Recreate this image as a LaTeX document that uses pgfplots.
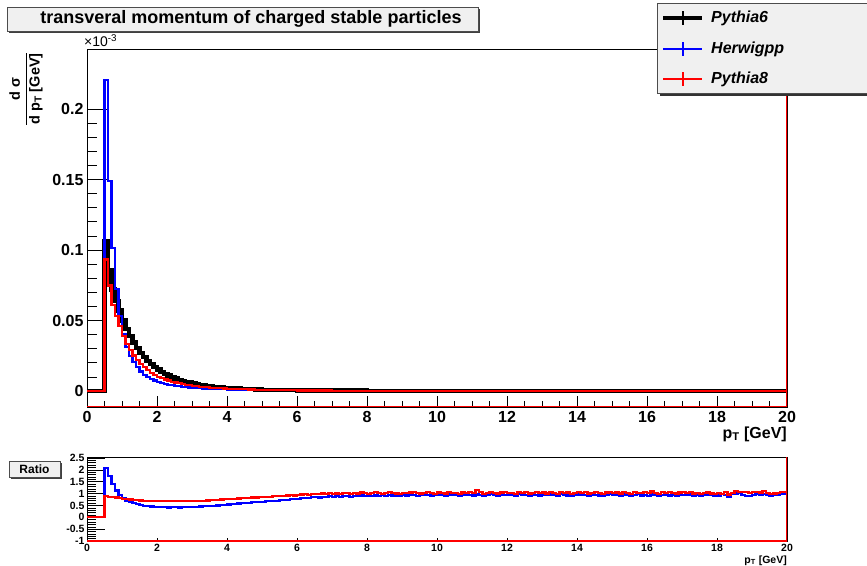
\documentclass[border=0pt]{standalone}
\usepackage{fontspec}
\setmainfont{Liberation Sans}
\usepackage{pgfplots}
\pgfplotsset{compat=1.18}
\usepackage{pgfplotstable}

\definecolor{boxgray}{RGB}{240,240,240}
\definecolor{rblue}{RGB}{0,0,255}
\definecolor{rred}{RGB}{255,0,0}

\pgfplotstableread{
x b h r
0 0 0 0
0.5 0.106 0.2205 0.0933
0.6 0.086 0.1488 0.0748
0.7 0.072 0.1015 0.0612
0.8 0.064 0.0723 0.0531
0.9 0.057 0.0530 0.0462
1.0 0.050 0.0400 0.0390
1.1 0.044 0.0312 0.0334
1.2 0.039 0.0250 0.0293
1.3 0.0345 0.0204 0.0252
1.4 0.0305 0.0168 0.0220
1.5 0.027 0.0138 0.0192
1.6 0.024 0.0115 0.0168
1.7 0.0213 0.0098 0.0147
1.8 0.019 0.0086 0.0129
1.9 0.017 0.0075 0.0116
2.0 0.0152 0.0065 0.0102
2.1 0.0136 0.0057 0.0091
2.2 0.0122 0.0051 0.0082
2.3 0.0110 0.0045 0.0074
2.4 0.0099 0.0042 0.0066
2.5 0.0089 0.0037 0.0060
2.6 0.0080 0.0033 0.0054
2.7 0.0072 0.0030 0.0048
2.8 0.0065 0.0027 0.0044
2.9 0.0059 0.0025 0.0040
3.0 0.0053 0.0023 0.0036
3.1 0.0048 0.0021 0.0033
3.2 0.0044 0.0020 0.0030
3.3 0.0040 0.0018 0.0028
3.4 0.0036 0.0017 0.0026
3.5 0.0033 0.0016 0.0024
3.6 0.0030 0.0015 0.0022
3.7 0.0027 0.0014 0.0020
3.8 0.0025 0.0013 0.0019
3.9 0.0023 0.0012 0.0017
4.0 0.0021 0.0011 0.0016
4.2 0.00175 0.00098 0.00137
4.4 0.00148 0.00087 0.00118
4.6 0.00125 0.00076 0.00103
4.8 0.00106 0.00068 0.00088
5.0 0.0009 0.00059 0.00077
5.5 0.0006 0.00043 0.00054
6.0 0.00042 0.00033 0.0004
7.0 0.00025 0.00022 0.00025
8.0 0.00015 0.00014 0.00015
10.0 0.00006 0.00006 0.00006
12.0 0.00002 0.00002 0.00002
20.0 0.00002 0.00002 0.00002
}\maintab

\pgfplotstableread{
x rb rr
0 0 0
0.5 2.08 0.88
0.6 1.73 0.87
0.7 1.41 0.85
0.8 1.13 0.83
0.9 0.93 0.81
1.0 0.80 0.78
1.1 0.71 0.76
1.2 0.64 0.75
1.3 0.59 0.73
1.4 0.55 0.72
1.5 0.51 0.71
1.6 0.48 0.70
1.7 0.46 0.69
1.8 0.45 0.68
1.9 0.44 0.68
2.0 0.43 0.67
2.1 0.42 0.67
2.2 0.42 0.67
2.3 0.41 0.67
2.4 0.42 0.67
2.5 0.42 0.67
2.6 0.41 0.68
2.7 0.42 0.67
2.8 0.42 0.68
2.9 0.43 0.68
3.0 0.43 0.68
3.1 0.44 0.69
3.2 0.45 0.69
3.3 0.46 0.70
3.4 0.47 0.71
3.5 0.48 0.72
3.6 0.49 0.73
3.7 0.50 0.74
3.8 0.52 0.75
3.9 0.53 0.76
4.0 0.54 0.77
4.1 0.55 0.78
4.2 0.56 0.78
4.3 0.58 0.79
4.4 0.59 0.80
4.5 0.60 0.81
4.6 0.61 0.82
4.7 0.63 0.83
4.8 0.64 0.83
4.9 0.65 0.84
5.0 0.66 0.85
5.1 0.67 0.86
5.2 0.68 0.87
5.3 0.70 0.88
5.4 0.69 0.88
5.5 0.72 0.90
5.6 0.73 0.90
5.7 0.74 0.92
5.8 0.76 0.93
5.9 0.77 0.92
6.0 0.78 0.95
6.1 0.80 0.96
6.2 0.82 0.97
6.3 0.81 0.95
6.4 0.85 0.99
6.5 0.84 0.98
6.6 0.83 0.97
6.7 0.86 1.00
6.8 0.85 0.98
6.9 0.88 1.01
7.0 0.86 0.99
7.1 0.88 1.00
7.2 0.87 0.98
7.3 0.90 1.03
7.4 0.89 1.01
7.5 0.87 0.99
7.6 0.91 1.02
7.7 0.90 1.00
7.8 0.92 1.04
7.9 0.89 1.01
8.0 0.90 0.99
8.1 0.91 1.02
8.2 0.92 1.05
8.3 0.90 1.01
8.4 0.93 0.99
8.5 0.91 1.03
8.6 0.94 1.06
8.7 0.92 1.02
8.8 0.90 1.00
8.9 0.91 0.98
9.0 0.93 1.03
9.1 0.92 1.01
9.2 0.95 1.04
9.3 0.94 1.07
9.4 0.91 1.03
9.5 0.93 1.00
9.6 0.96 1.02
9.7 0.94 1.05
9.8 0.92 1.01
9.9 0.95 0.99
10.0 0.93 1.04
10.1 0.94 1.02
10.2 0.92 1.00
10.3 0.96 1.05
10.4 0.93 1.03
10.5 0.95 1.01
10.6 0.91 0.98
10.7 0.94 1.04
10.8 0.96 1.02
10.9 0.93 1.06
11.0 0.92 1.01
11.1 0.96 1.15
11.2 0.93 1.05
11.3 0.91 0.99
11.4 0.95 1.03
11.5 0.97 1.07
11.6 0.94 1.02
11.7 0.92 1.00
11.8 0.96 1.04
11.9 0.95 1.06
12.0 0.93 1.01
12.1 0.94 1.03
12.2 0.92 0.99
12.3 0.97 1.06
12.4 0.95 1.02
12.5 0.93 1.05
12.6 0.90 1.00
12.7 0.96 1.03
12.8 0.94 1.07
12.9 0.92 1.01
13.0 0.95 1.04
13.1 0.93 1.00
13.2 0.96 1.05
13.3 0.94 1.03
13.4 0.90 0.98
13.5 0.97 1.06
13.6 0.95 1.02
13.7 0.92 1.04
13.8 0.91 0.99
13.9 0.94 1.03
14.0 0.96 1.08
14.1 0.95 1.02
14.2 0.93 1.05
14.3 0.91 1.00
14.4 0.96 1.03
14.5 0.94 1.07
14.6 0.92 1.01
14.7 0.90 0.99
14.8 0.95 1.04
14.9 0.97 1.06
15.0 0.93 1.02
15.1 0.94 1.04
15.2 0.92 1.00
15.3 0.96 1.08
15.4 0.93 1.02
15.5 0.90 0.99
15.6 0.95 1.05
15.7 0.97 1.03
15.8 0.92 1.01
15.9 0.94 1.06
16.0 0.91 1.02
16.1 0.96 1.09
16.2 0.94 1.03
16.3 0.89 0.99
16.4 0.93 1.05
16.5 0.95 1.01
16.6 0.92 1.07
16.7 0.96 1.03
16.8 0.91 1.00
16.9 0.94 1.04
17.0 0.95 1.08
17.1 0.93 1.02
17.2 0.96 1.05
17.3 0.92 1.00
17.4 0.95 1.03
17.5 0.91 0.98
17.6 0.94 1.01
17.7 0.96 1.04
17.8 0.93 1.00
17.9 0.90 0.97
18.0 0.92 1.02
18.1 0.98 0.99
18.2 0.93 1.06
18.3 0.87 0.96
18.4 0.97 1.02
18.5 1.00 1.12
18.6 1.02 1.08
18.7 0.94 1.08
18.8 0.91 1.06
18.9 0.88 1.03
19.0 0.93 1.05
19.1 0.97 1.07
19.2 0.95 1.04
19.3 0.99 1.10
19.4 0.94 1.02
19.5 0.92 0.99
19.6 0.93 1.00
19.7 0.96 1.03
19.8 0.98 1.05
19.9 1.00 1.06
20.0 1.00 1.06
}\ratiotab

\begin{document}
\begin{tikzpicture}[x=1pt,y=1pt]
\useasboundingbox (0pt,0pt) rectangle (867pt,565pt);

% ---------------- main panel ----------------
\begin{axis}[
  at={(87pt,158pt)}, anchor=south west,
  scale only axis, width=700pt, height=358pt,
  xmin=0, xmax=20, ymin=-0.01135, ymax=0.24255,
  axis line style={line width=0.8pt},
  xtick={0,2,...,20}, minor x tick num=3,
  ytick={0,0.05,0.1,0.15,0.2}, minor y tick num=4,
  tick align=inside, xtick pos=bottom, ytick pos=left,
  xtick style={/pgfplots/major tick length=11pt,/pgfplots/minor tick length=5.5pt,line width=0.6pt,black},
  ytick style={/pgfplots/major tick length=20pt,/pgfplots/minor tick length=10pt,line width=0.6pt,black},
  scaled y ticks=false,
  yticklabel style={/pgf/number format/fixed,/pgf/number format/precision=2},
  /pgf/number format/assume math mode=true,
  ticklabel style={font=\fontsize{16}{16}\selectfont\bfseries},
  xticklabel style={yshift=-1pt},
  clip=true,
]
\addplot[const plot, black, line width=4.4pt] table[x=x,y=b]{\maintab};
\addplot[const plot, rblue, line width=2.2pt] table[x=x,y=h]{\maintab};
\addplot[const plot, rred, line width=2.2pt] table[x=x,y=r]{\maintab};
\draw[rred, line width=2pt] (rel axis cs:0,0) -- (rel axis cs:1,0) -- (rel axis cs:1,1);
\end{axis}

% ---------------- ratio panel ----------------
\begin{axis}[
  at={(87pt,24pt)}, anchor=south west,
  scale only axis, width=700pt, height=84pt,
  xmin=0, xmax=20, ymin=-1, ymax=2.54,
  axis line style={line width=0.8pt},
  xtick={0,2,...,20}, minor x tick num=3,
  ytick={-1,-0.5,...,2.5}, minor y tick num=4,
  tick align=inside, xtick pos=bottom, ytick pos=left,
  xtick style={/pgfplots/major tick length=3pt,/pgfplots/minor tick length=1.5pt,line width=0.6pt,black},
  ytick style={/pgfplots/major tick length=18pt,/pgfplots/minor tick length=9pt,line width=0.5pt,black},
  scaled y ticks=false,
  /pgf/number format/assume math mode=true,
  ticklabel style={font=\fontsize{10.5}{10.5}\selectfont\bfseries},
  yticklabel style={xshift=1pt},
  clip=true,
]
\addplot[const plot, rblue, line width=2.2pt] table[x=x,y=rb]{\ratiotab};
\addplot[const plot, rred, line width=2.2pt] table[x=x,y=rr]{\ratiotab};
\draw[rred, line width=2pt] (rel axis cs:0,0) -- (rel axis cs:1,0) -- (rel axis cs:1,1);
\end{axis}

% ---------------- title ----------------
\fill[black!75] (9pt,532pt) rectangle (480pt,556pt);
\draw[fill=boxgray, draw=black!70, line width=0.6pt] (7pt,534pt) rectangle (478pt,558pt);
\node[font=\fontsize{18}{18}\selectfont\bfseries] at (251pt,546pt) {transveral momentum of charged stable particles};

% ---------------- y label & exponent ----------------
\node[rotate=90, font=\fontsize{14.5}{14.5}\selectfont\bfseries] at (26pt,476pt)
  {$\displaystyle\frac{\mbox{\bfseries d σ}}{\mbox{\bfseries d p\textsubscript{T} [GeV]}}$};
\node[anchor=west, font=\fontsize{14}{14}\selectfont, inner sep=0pt] at (84pt,524pt) {×10\textsuperscript{-3}};

% ---------------- x labels ----------------
\node[anchor=east, font=\fontsize{16}{16}\selectfont\bfseries, inner sep=0pt] at (787pt,131pt) {p\textsubscript{T} [GeV]};
\node[anchor=east, font=\fontsize{10.5}{10.5}\selectfont\bfseries, inner sep=0pt] at (787pt,4.5pt) {p\textsubscript{T} [GeV]};

% ---------------- Ratio box ----------------
\fill[black!75] (11pt,86pt) rectangle (62pt,102pt);
\draw[fill=boxgray, draw=black!70, line width=0.6pt] (9pt,88pt) rectangle (60pt,104pt);
\node[font=\fontsize{12}{12}\selectfont\bfseries] at (34.5pt,96pt) {Ratio};

% ---------------- legend ----------------
\fill[black!80] (660pt,469pt) rectangle (870pt,559pt);
\draw[fill=boxgray, draw=black!70, line width=0.6pt] (657pt,472pt) rectangle (870pt,562pt);
\draw[black, line width=4pt] (663pt,547pt) -- (702pt,547pt);
\draw[black, line width=2pt] (683pt,540pt) -- (683pt,554pt);
\draw[rblue, line width=1.4pt] (663pt,516pt) -- (702pt,516pt);
\draw[rblue, line width=1.4pt] (683pt,509pt) -- (683pt,523pt);
\draw[rred, line width=1.4pt] (663pt,486pt) -- (702pt,486pt);
\draw[rred, line width=1.4pt] (683pt,479pt) -- (683pt,493pt);
\node[anchor=west, inner sep=0pt, font=\fontsize{16}{16}\selectfont\bfseries\itshape] at (711pt,547pt) {Pythia6};
\node[anchor=west, inner sep=0pt, font=\fontsize{16}{16}\selectfont\bfseries\itshape] at (711pt,516pt) {Herwigpp};
\node[anchor=west, inner sep=0pt, font=\fontsize{16}{16}\selectfont\bfseries\itshape] at (711pt,486pt) {Pythia8};
\end{tikzpicture}
\end{document}
